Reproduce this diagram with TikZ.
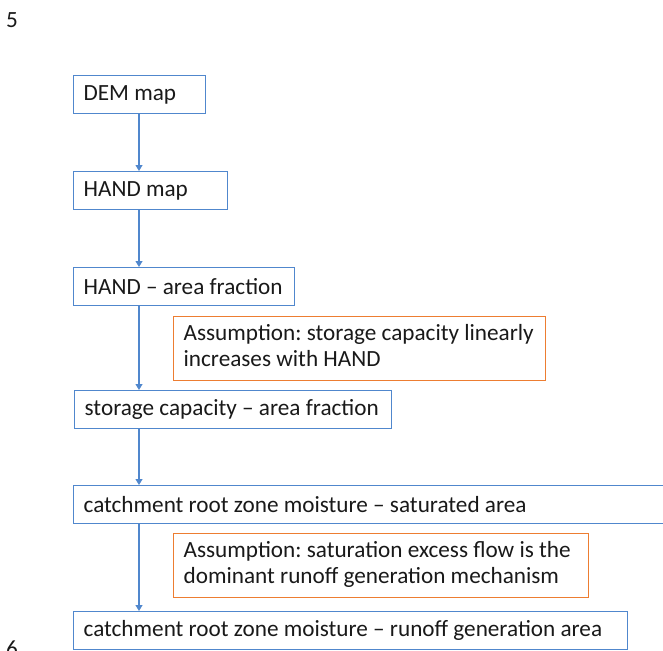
\documentclass[tikz,border=0pt]{standalone}
\usepackage{fontspec}
\setmainfont{Carlito}
\usetikzlibrary{arrows.meta}
\definecolor{boxblue}{RGB}{80,135,205}
\definecolor{boxorange}{RGB}{237,125,49}
\definecolor{txt}{RGB}{25,25,25}
\frenchspacing
\newcommand{\lbox}[2]{\makebox[#1][l]{#2}}
\newcommand{\twolines}[3]{\makebox[#1][l]{\begin{tabular}{@{}l@{}}#2\\#3\end{tabular}}}
\begin{document}
\begin{tikzpicture}[x=1pt,y=-1pt,
  font=\fontsize{23.2}{26}\selectfont,
  bbox/.style={draw=boxblue, line width=1.3pt, anchor=north west, minimum height=38pt,
    inner xsep=10pt, inner ysep=0pt, text=txt},
  obox/.style={draw=boxorange, line width=1.3pt, anchor=north west, minimum height=64pt,
    inner xsep=10pt, inner ysep=0pt, text=txt},
  arr/.style={draw=boxblue, line width=1.1pt, -{Triangle[length=6pt,width=7pt]}}]
\clip (0,0) rectangle (663,650);
\useasboundingbox (0,0) rectangle (663,650);
\node[anchor=north west, inner sep=0pt, text=txt] (n5) at (6,12) {5};
\node[anchor=north west, inner sep=0pt, text=txt] (n6) at (6,641) {6};
\node[bbox] (dem) at (73,75) {\lbox{112pt}{DEM map}};
\node[bbox] (hand) at (73,171) {\lbox{134pt}{HAND map}};
\node[bbox] (frac) at (73,267) {\lbox{201pt}{HAND -- area fraction}};
\node[obox] (a1) at (173,316) {\twolines{352pt}{Assumption: storage capacity linearly}{increases with HAND}};
\node[bbox] (stor) at (74,390) {\lbox{297pt}{storage capacity -- area fraction}};
\node[bbox] (sat) at (73,485) {\lbox{680pt}{catchment root zone moisture -- saturated area}};
\node[obox] (a2) at (173,533) {\twolines{395pt}{Assumption: saturation excess flow is the}{dominant runoff generation mechanism}};
\node[bbox] (run) at (73,611) {\lbox{534pt}{catchment root zone moisture -- runoff generation area}};
\coordinate (ax) at (139,0);
\draw[arr] (dem.south -| ax) -- (hand.north -| ax);
\draw[arr] (hand.south -| ax) -- (frac.north -| ax);
\draw[arr] (frac.south -| ax) -- (stor.north -| ax);
\draw[arr] (stor.south -| ax) -- (sat.north -| ax);
\draw[arr] (sat.south -| ax) -- (run.north -| ax);
\end{tikzpicture}
\end{document}
